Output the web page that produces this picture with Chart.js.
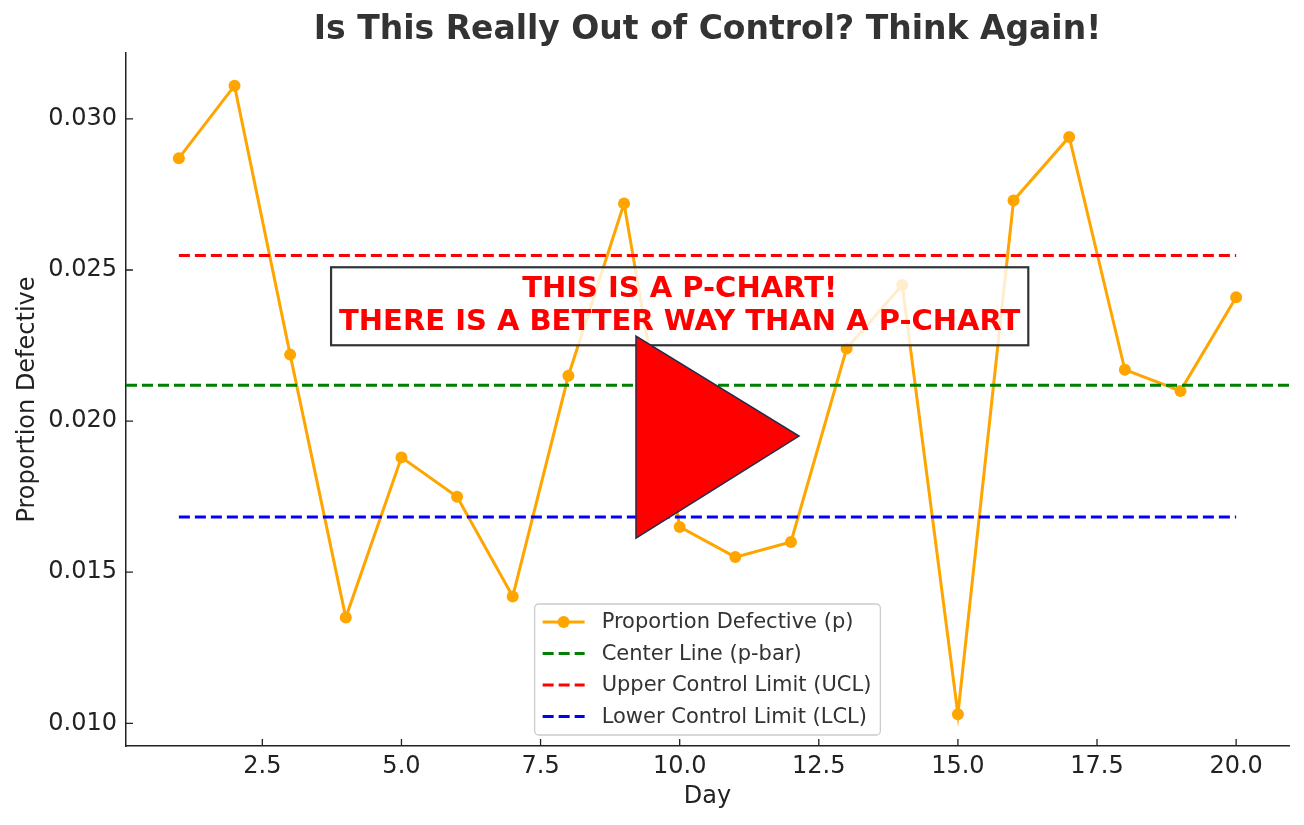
<!DOCTYPE html>
<html>
<head>
<meta charset="utf-8">
<script src="https://cdn.jsdelivr.net/npm/chart.js"></script>
<style>
  html, body { margin: 0; padding: 0; background: #fff; }
  #wrap { width: 1304px; height: 825px; }
</style>
</head>
<body>
<div id="wrap"><canvas id="pchart" width="1304" height="825"></canvas></div>
<script>
// data
const days = [1, 2, 3, 4, 5, 6, 7, 8, 9, 10, 11, 12, 13, 14, 15, 16, 17, 18, 19, 20];
const pValues = [0.0287, 0.0311, 0.0222, 0.0135, 0.0188, 0.0175, 0.0142, 0.0215, 0.0272, 0.0165,
                 0.0155, 0.0160, 0.0224, 0.0245, 0.0103, 0.0273, 0.0294, 0.0217, 0.0210, 0.0241];
const pBar = 0.02119;
const ucl = 0.02548;
const lcl = 0.01683;
const xLimits = [0.05, 20.95];
const yLimits = [0.00925, 0.03218];
const xTicks = [2.5, 5.0, 7.5, 10.0, 12.5, 15.0, 17.5, 20.0];
const yTicks = [0.010, 0.015, 0.020, 0.025, 0.030];
const seriesLabels = ["Proportion Defective (p)", "Center Line (p-bar)", "Upper Control Limit (UCL)", "Lower Control Limit (LCL)"];
const titleText = "Is This Really Out of Control? Think Again!";
const noteLines = ["THIS IS A P-CHART!", "THERE IS A BETTER WAY THAN A P-CHART"];
const noteAt = { x: 10, y: 0.0238 };

const FONT = "DejaVu Sans";
const dash = [11, 5];

function flat(xs, v) { return xs.map(x => ({ x: x, y: v })); }

// inward tick marks, title, annotation box, play-triangle, legend
const decor = {
  id: 'decor',
  afterDraw(chart) {
    const ctx = chart.ctx;
    const a = chart.chartArea;
    const xs = chart.scales.x, ys = chart.scales.y;
    ctx.save();

    // ticks pointing in
    ctx.strokeStyle = '#222';
    ctx.lineWidth = 1.3;
    ctx.beginPath();
    xTicks.forEach(v => { const px = xs.getPixelForValue(v); ctx.moveTo(px, a.bottom); ctx.lineTo(px, a.bottom - 7); });
    yTicks.forEach(v => { const py = ys.getPixelForValue(v); ctx.moveTo(a.left, py); ctx.lineTo(a.left + 7, py); });
    ctx.stroke();

    // title
    ctx.fillStyle = '#333';
    ctx.font = 'bold 33px "' + FONT + '"';
    ctx.textAlign = 'center';
    ctx.textBaseline = 'middle';
    ctx.fillText(titleText, (a.left + a.right) / 2, 30);

    // annotation box
    ctx.font = 'bold 29px "' + FONT + '"';
    const cx = xs.getPixelForValue(noteAt.x), cy = ys.getPixelForValue(noteAt.y);
    const w = Math.max(...noteLines.map(t => ctx.measureText(t).width)) + 16;
    const lh = 33;
    const h = lh * noteLines.length + 12;
    ctx.fillStyle = 'rgba(255,255,255,0.8)';
    ctx.fillRect(cx - w / 2, cy - h / 2, w, h);
    ctx.strokeStyle = '#333';
    ctx.lineWidth = 2.2;
    ctx.strokeRect(cx - w / 2, cy - h / 2, w, h);
    ctx.fillStyle = '#ff0000';
    noteLines.forEach((t, i) => ctx.fillText(t, cx, cy - (noteLines.length - 1) * lh / 2 + i * lh));

    // play triangle
    const aw = a.right - a.left, ah = a.bottom - a.top;
    ctx.beginPath();
    ctx.moveTo(a.left + aw * 0.4385, a.top + ah * 0.4084);
    ctx.lineTo(a.left + aw * 0.4385, a.top + ah * 0.6999);
    ctx.lineTo(a.left + aw * 0.5787, a.top + ah * 0.5527);
    ctx.closePath();
    ctx.fillStyle = '#ff0000';
    ctx.fill();
    ctx.strokeStyle = '#1f2d4d';
    ctx.lineWidth = 1.5;
    ctx.stroke();

    // legend
    ctx.font = '21px "' + FONT + '"';
    const tw = Math.max(...seriesLabels.map(t => ctx.measureText(t).width));
    const lw = 8 + 42 + 17 + tw + 9;
    const rowH = 31.5;
    const lhgt = rowH * seriesLabels.length + 5;
    const lx = (a.left + a.right) / 2 - lw / 2;
    const ly = a.bottom - 11 - lhgt;
    ctx.beginPath();
    ctx.roundRect(lx, ly, lw, lhgt, 4);
    ctx.fillStyle = 'rgba(255,255,255,0.8)';
    ctx.fill();
    ctx.strokeStyle = '#cccccc';
    ctx.lineWidth = 1.3;
    ctx.stroke();
    ctx.textAlign = 'left';
    chart.data.datasets.forEach((ds, i) => {
      const ry = ly + 18 + i * rowH;
      ctx.strokeStyle = ds.borderColor;
      ctx.lineWidth = 3;
      ctx.setLineDash(ds.borderDash || []);
      ctx.beginPath();
      ctx.moveTo(lx + 8, ry);
      ctx.lineTo(lx + 50, ry);
      ctx.stroke();
      ctx.setLineDash([]);
      if (ds.pointRadius > 0) {
        ctx.beginPath();
        ctx.arc(lx + 29, ry, 6, 0, Math.PI * 2);
        ctx.fillStyle = ds.pointBackgroundColor;
        ctx.fill();
      }
      ctx.fillStyle = '#333';
      ctx.fillText(ds.label, lx + 67, ry + 1);
    });
    ctx.restore();
  }
};

new Chart(document.getElementById("pchart"), {
  type: 'line',
  data: {
    datasets: [
      {
        label: seriesLabels[0],
        data: days.map((d, i) => ({ x: d, y: pValues[i] })),
        borderColor: '#ffa500',
        backgroundColor: '#ffa500',
        pointBackgroundColor: '#ffa500',
        pointBorderWidth: 0,
        pointRadius: 6,
        borderWidth: 3,
        order: 4
      }, {
        label: seriesLabels[1],
        data: flat(xLimits, pBar),
        borderColor: '#008000',
        borderDash: dash,
        borderWidth: 3,
        pointRadius: 0,
        order: 3
      }, {
        label: seriesLabels[2],
        data: flat([days[0], days[days.length - 1]], ucl),
        borderColor: '#ff0000',
        borderDash: dash,
        borderWidth: 3,
        pointRadius: 0,
        order: 2
      }, {
        label: seriesLabels[3],
        data: flat([days[0], days[days.length - 1]], lcl),
        borderColor: '#0000ff',
        borderDash: dash,
        borderWidth: 3,
        pointRadius: 0,
        order: 1
      }
    ]
  },
  options: {
    responsive: false,
    animation: false,
    events: [],
    layout: { padding: { left: 0, top: 53, right: 15, bottom: 0 } },
    plugins: {
      legend: { display: false },
      title: { display: false },
      tooltip: { enabled: false }
    },
    scales: {
      x: {
        type: 'linear',
        min: xLimits[0],
        max: xLimits[1],
        afterBuildTicks: s => { s.ticks = xTicks.map(v => ({ value: v })); },
        afterFit: s => { s.height = 79; },
        grid: { display: true, drawOnChartArea: false, drawTicks: false },
        border: { display: true, color: '#222', width: 1.5 },
        ticks: {
          color: '#222', padding: 6, maxRotation: 0,
          font: { family: FONT, size: 24 },
          callback: v => Number(v).toFixed(1)
        },
        title: { display: true, text: 'Day', color: '#222', font: { family: FONT, size: 24 }, padding: { top: 0, bottom: 14 } }
      },
      y: {
        type: 'linear',
        min: yLimits[0],
        max: yLimits[1],
        afterBuildTicks: s => { s.ticks = yTicks.map(v => ({ value: v })); },
        afterFit: s => { s.width = 126; },
        grid: { display: true, drawOnChartArea: false, drawTicks: false },
        border: { display: true, color: '#222', width: 1.5 },
        ticks: {
          color: '#222', padding: 9,
          font: { family: FONT, size: 24 },
          callback: v => Number(v).toFixed(3)
        },
        title: { display: true, text: 'Proportion Defective', color: '#222', font: { family: FONT, size: 24 }, padding: { top: 13, bottom: 0 } }
      }
    }
  },
  plugins: [decor]
});
</script>
</body>
</html>
